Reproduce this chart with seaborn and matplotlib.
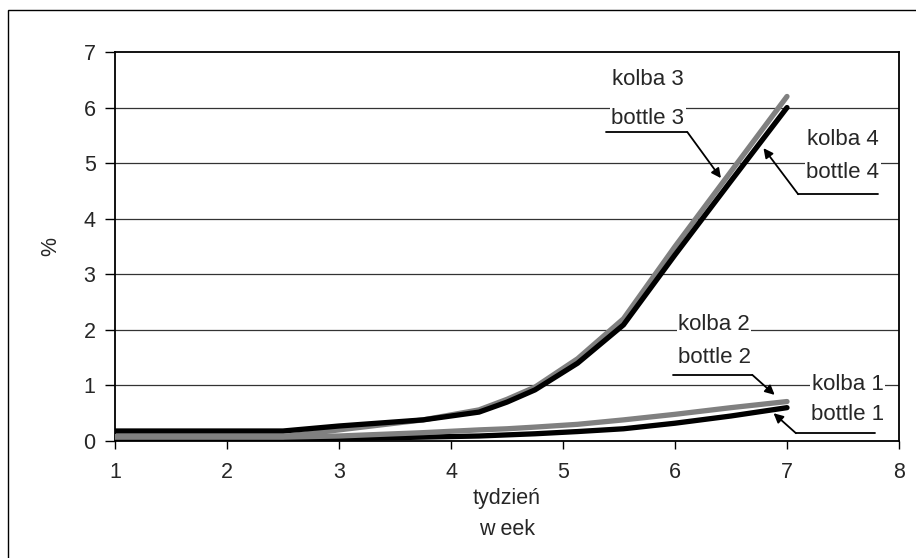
import matplotlib
matplotlib.use("Agg")
import matplotlib.pyplot as plt
import seaborn as sns
import pandas as pd
from matplotlib.patches import Rectangle

# ---- data ----
weeks = [1, 2.5, 3, 3.75, 4.25, 4.5, 4.75, 5.13, 5.54, 6, 6.5, 7]
kolba1 = [0.03, 0.03, 0.04, 0.07, 0.09, 0.11, 0.13, 0.17, 0.22, 0.32, 0.45, 0.60]
kolba2 = [0.07, 0.07, 0.09, 0.15, 0.20, 0.22, 0.25, 0.30, 0.38, 0.48, 0.60, 0.71]
kolba3 = [0.08, 0.08, 0.20, 0.38, 0.56, 0.75, 0.97, 1.48, 2.20, 3.50, 4.85, 6.20]
kolba4 = [0.18, 0.18, 0.27, 0.38, 0.52, 0.70, 0.92, 1.40, 2.09, 3.35, 4.68, 6.00]
series_names = ["kolba 1", "kolba 2", "kolba 3", "kolba 4"]
series_colors = ["#000000", "#808080", "#808080", "#000000"]
x_ticks = [1, 2, 3, 4, 5, 6, 7, 8]
y_ticks = [0, 1, 2, 3, 4, 5, 6, 7]

df = pd.DataFrame({"week": weeks * 4,
                   "value": kolba1 + kolba2 + kolba3 + kolba4,
                   "series": sum([[n] * len(weeks) for n in series_names], [])})

sns.set_style("white")
plt.rcParams["font.family"] = ["Liberation Sans", "DejaVu Sans"]

fig = plt.figure(figsize=(9.16, 5.58), dpi=100)
ax = fig.add_axes([115 / 916, 1 - 441 / 558, (899 - 115) / 916, (441 - 52) / 558])

for name, col in zip(series_names, series_colors):
    sns.lineplot(data=df[df.series == name], x="week", y="value", color=col,
                 lw=3.8, ax=ax, legend=False, solid_capstyle="round", zorder=3)

ax.set_xlim(1, 8)
ax.set_ylim(0, 7)
ax.set_xticks(x_ticks)
ax.set_yticks(y_ticks)
ax.set_xticklabels([str(t) for t in x_ticks])
ax.set_yticklabels([str(t) for t in y_ticks])
ax.tick_params(axis="x", direction="out", length=6, width=1, color="black",
               labelsize=15.5, pad=9, bottom=True)
ax.tick_params(axis="y", direction="out", length=7, width=1, color="black",
               labelsize=15.5, pad=7, left=True)
for y in y_ticks[1:-1]:
    ax.axhline(y, color="#333333", lw=0.9, zorder=1)
for s in ax.spines.values():
    s.set_color("black")
    s.set_linewidth(1.3)
    s.set_visible(True)

ax.set_ylabel("%", fontsize=15.5, labelpad=16)
ax.set_xlabel("tydzień\nw eek", fontsize=15.5, linespacing=1.6, labelpad=4)

# ---- annotations (text centre, underline x0/x1/y, arrow tip) ----
ann = [
    ("kolba 3", "bottle 3", 5.756, 6.50, 5.81, 5.38, 6.11, 5.56, 6.11, 6.41, 4.73),
    ("kolba 4", "bottle 4", 7.50, 5.42, 4.84, 7.10, 7.81, 4.44, 7.10, 6.79, 5.27),
    ("kolba 2", "bottle 2", 6.35, 2.09, 1.51, 5.98, 6.69, 1.19, 6.69, 6.89, 0.83),
    ("kolba 1", "bottle 1", 7.54, 1.01, 0.47, 7.08, 7.79, 0.14, 7.08, 6.88, 0.50),
]
for t1, t2, tx, ty1, ty2, u0, u1, uy, ax0, tipx, tipy in ann:
    for txt, ty in ((t1, ty1), (t2, ty2)):
        ax.text(tx, ty, txt, ha="center", va="center", fontsize=16, zorder=5,
                clip_on=False,
                bbox=dict(facecolor="white", edgecolor="none", pad=1.0))
    ax.plot([u0, u1], [uy, uy], color="black", lw=1.3, zorder=4, clip_on=False)
    ax.annotate("", xy=(tipx, tipy), xytext=(ax0, uy),
                arrowprops=dict(arrowstyle="-|>", color="black", lw=1.3,
                                mutation_scale=14, shrinkA=0, shrinkB=0),
                zorder=4, annotation_clip=False)

fig.patches.append(Rectangle((8 / 916, -0.05), 1.0, 1 - 10 / 558 + 0.05,
                             transform=fig.transFigure, fill=False,
                             edgecolor="black", lw=1.0))
fig.savefig("out.png", dpi=100)
